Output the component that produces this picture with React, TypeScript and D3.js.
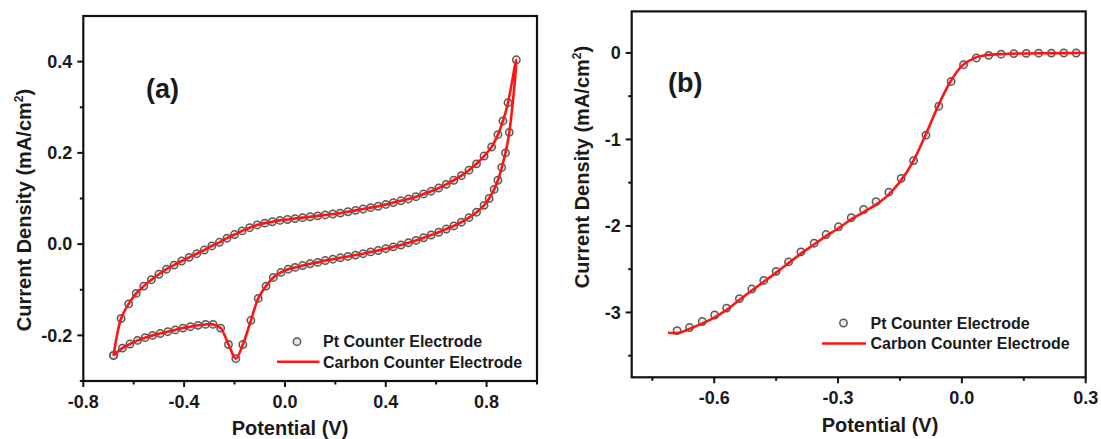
import React from 'react';
import * as d3 from 'd3';

// ---------- Panel (a): cyclic voltammetry ----------
const cvForwardV = [-0.68, -0.65, -0.62, -0.59, -0.56, -0.53, -0.50, -0.47, -0.44, -0.41, -0.38, -0.35, -0.32, -0.29, -0.26, -0.23, -0.20, -0.17, -0.14, -0.11, -0.08, -0.05, -0.02, 0.01, 0.04, 0.07, 0.10, 0.13, 0.16, 0.19, 0.22, 0.25, 0.28, 0.31, 0.34, 0.37, 0.40, 0.43, 0.46, 0.49, 0.52, 0.55, 0.58, 0.61, 0.64, 0.67, 0.70, 0.73, 0.76, 0.79, 0.82, 0.845, 0.865, 0.885, 0.918];
const cvForwardJ = [-0.244, -0.163, -0.131, -0.108, -0.092, -0.078, -0.066, -0.055, -0.046, -0.037, -0.029, -0.021, -0.013, -0.004, 0.004, 0.013, 0.021, 0.029, 0.036, 0.042, 0.046, 0.049, 0.052, 0.054, 0.056, 0.058, 0.060, 0.062, 0.064, 0.066, 0.068, 0.071, 0.074, 0.077, 0.080, 0.083, 0.087, 0.091, 0.095, 0.099, 0.104, 0.110, 0.116, 0.123, 0.131, 0.140, 0.150, 0.162, 0.176, 0.193, 0.213, 0.240, 0.270, 0.310, 0.404];
const cvReverseV = [0.918, 0.89, 0.875, 0.86, 0.845, 0.83, 0.81, 0.79, 0.76, 0.73, 0.70, 0.67, 0.64, 0.61, 0.58, 0.55, 0.52, 0.49, 0.46, 0.43, 0.40, 0.37, 0.34, 0.31, 0.28, 0.25, 0.22, 0.19, 0.16, 0.13, 0.10, 0.07, 0.04, 0.013, -0.016, -0.046, -0.075, -0.106, -0.135, -0.167, -0.195, -0.224, -0.255, -0.285, -0.315, -0.345, -0.375, -0.405, -0.435, -0.465, -0.495, -0.525, -0.555, -0.585, -0.615, -0.645, -0.68];
const cvReverseJ = [0.404, 0.245, 0.200, 0.168, 0.140, 0.120, 0.100, 0.085, 0.070, 0.058, 0.048, 0.040, 0.033, 0.026, 0.020, 0.014, 0.008, 0.003, -0.002, -0.006, -0.010, -0.014, -0.017, -0.021, -0.024, -0.027, -0.030, -0.033, -0.036, -0.040, -0.043, -0.047, -0.051, -0.055, -0.062, -0.073, -0.092, -0.119, -0.167, -0.220, -0.251, -0.220, -0.184, -0.176, -0.176, -0.178, -0.181, -0.184, -0.188, -0.192, -0.196, -0.200, -0.205, -0.211, -0.219, -0.228, -0.244];

// ---------- Panel (b): linear sweep ----------
const lsvPtV = [-0.690, -0.660, -0.629, -0.599, -0.570, -0.539, -0.509, -0.480, -0.450, -0.420, -0.390, -0.358, -0.329, -0.299, -0.268, -0.238, -0.208, -0.177, -0.147, -0.117, -0.087, -0.056, -0.026, 0.004, 0.035, 0.065, 0.095, 0.126, 0.156, 0.186, 0.217, 0.247, 0.277];
const lsvPtJ = [-3.21, -3.175, -3.105, -3.03, -2.95, -2.84, -2.73, -2.63, -2.525, -2.416, -2.30, -2.20, -2.10, -2.01, -1.905, -1.81, -1.72, -1.61, -1.45, -1.245, -0.95, -0.616, -0.33, -0.136, -0.058, -0.028, -0.015, -0.008, -0.005, -0.003, -0.002, -0.001, -0.001];
const lsvCarbonV = [-0.712, -0.685, -0.66, -0.63, -0.60, -0.57, -0.54, -0.51, -0.48, -0.45, -0.42, -0.39, -0.36, -0.33, -0.30, -0.27, -0.24, -0.21, -0.18, -0.15, -0.12, -0.09, -0.06, -0.03, 0.00, 0.03, 0.06, 0.10, 0.15, 0.20, 0.25, 0.30];
const lsvCarbonJ = [-3.235, -3.235, -3.19, -3.13, -3.06, -2.97, -2.86, -2.75, -2.645, -2.54, -2.43, -2.32, -2.22, -2.12, -2.03, -1.93, -1.845, -1.76, -1.65, -1.49, -1.27, -0.97, -0.64, -0.35, -0.15, -0.06, -0.025, -0.012, -0.006, -0.003, -0.002, -0.001];

// ---------- Axes ----------
const aXMajor = [-0.8, -0.4, 0.0, 0.4, 0.8];
const aXLabels = ['-0.8', '-0.4', '0.0', '0.4', '0.8'];
const aXMinor = [-0.6, -0.2, 0.2, 0.6, 1.0];
const aYMajor = [-0.2, 0.0, 0.2, 0.4];
const aYLabels = ['-0.2', '0.0', '0.2', '0.4'];
const aYMinor = [-0.3, -0.1, 0.1, 0.3];

const bXMajor = [-0.6, -0.3, 0.0, 0.3];
const bXLabels = ['-0.6', '-0.3', '0.0', '0.3'];
const bXMinor = [-0.75, -0.45, -0.15, 0.15];
const bYMajor = [-3, -2, -1, 0];
const bYLabels = ['-3', '-2', '-1', '0'];
const bYMinor = [-3.5, -2.5, -1.5, -0.5];

const legendLabels = ['Pt Counter Electrode', 'Carbon Counter Electrode'];
const xTitle = 'Potential (V)';

const FONT = "'Liberation Sans', Arial, Helvetica, sans-serif";
const TXT = '#1a1a1a';
const RED = '#ff1414';

type PanelProps = {
  frame: { left: number; right: number; top: number; bottom: number };
  xDomain: [number, number];
  yDomain: [number, number];
  xMajor: number[]; xLabels: string[]; xMinor: number[];
  yMajor: number[]; yLabels: string[]; yMinor: number[];
  ptV: number[]; ptJ: number[];
  lineV: number[]; lineJ: number[];
  tag: string; tagX: number; tagY: number;
  legend: { cx: number; cy: number; lx1: number; lx2: number; ly: number; tx: number; t1y: number; t2y: number };
  yTitleX: number; yTitleY: number;
  xTitleX: number; xTitleY: number;
};

function Panel(p: PanelProps) {
  const x = d3.scaleLinear().domain(p.xDomain).range([p.frame.left, p.frame.right]);
  const y = d3.scaleLinear().domain(p.yDomain).range([p.frame.bottom, p.frame.top]);
  const pts = p.ptV.map((v, i) => [v, p.ptJ[i]] as [number, number]);
  const linePts = p.lineV.map((v, i) => [v, p.lineJ[i]] as [number, number]);
  const lineGen = d3.line<[number, number]>().x(d => x(d[0])).y(d => y(d[1])).curve(d3.curveCatmullRom.alpha(0.5));
  const f = p.frame;
  return (
    <g>
      {pts.map((d, i) => (
        <circle key={'m' + i} cx={x(d[0])} cy={y(d[1])} r={3.7} fill="#dcdcdc" fillOpacity={0.6} stroke="#5a5a5a" strokeWidth={1.5} />
      ))}
      <path d={lineGen(linePts) || ''} fill="none" stroke={RED} strokeWidth={2.6} strokeLinejoin="round" />
      {/* frame */}
      <rect x={f.left} y={f.top} width={f.right - f.left} height={f.bottom - f.top} fill="none" stroke="#111" strokeWidth={2.2} />
      {/* ticks */}
      {p.xMajor.map((v, i) => (
        <g key={'xM' + i}>
          <line x1={x(v)} x2={x(v)} y1={f.bottom} y2={f.bottom + 6} stroke="#111" strokeWidth={2} />
          <text x={x(v)} y={f.bottom + 27} textAnchor="middle" fontFamily={FONT} fontWeight="bold" fontSize={18} fill={TXT}>{p.xLabels[i]}</text>
        </g>
      ))}
      {p.xMinor.map((v, i) => (
        <line key={'xm' + i} x1={x(v)} x2={x(v)} y1={f.bottom} y2={f.bottom + 3.5} stroke="#111" strokeWidth={2} />
      ))}
      {p.yMajor.map((v, i) => (
        <g key={'yM' + i}>
          <line x1={f.left - 6} x2={f.left} y1={y(v)} y2={y(v)} stroke="#111" strokeWidth={2} />
          <text x={f.left - 11} y={y(v)} dy="0.35em" textAnchor="end" fontFamily={FONT} fontWeight="bold" fontSize={18} fill={TXT}>{p.yLabels[i]}</text>
        </g>
      ))}
      {p.yMinor.map((v, i) => (
        <line key={'ym' + i} x1={f.left - 3.5} x2={f.left} y1={y(v)} y2={y(v)} stroke="#111" strokeWidth={2} />
      ))}
      {/* panel tag */}
      <text x={p.tagX} y={p.tagY} fontFamily={FONT} fontWeight="bold" fontSize={27} fill={TXT}>{p.tag}</text>
      {/* legend */}
      <circle cx={p.legend.cx} cy={p.legend.cy} r={3.7} fill="#dcdcdc" fillOpacity={0.6} stroke="#5a5a5a" strokeWidth={1.5} />
      <text x={p.legend.tx} y={p.legend.t1y} fontFamily={FONT} fontWeight="bold" fontSize={16} fill={TXT}>{legendLabels[0]}</text>
      <line x1={p.legend.lx1} x2={p.legend.lx2} y1={p.legend.ly} y2={p.legend.ly} stroke={RED} strokeWidth={2.6} />
      <text x={p.legend.tx} y={p.legend.t2y} fontFamily={FONT} fontWeight="bold" fontSize={16} fill={TXT}>{legendLabels[1]}</text>
      {/* axis titles */}
      <text x={p.xTitleX} y={p.xTitleY} textAnchor="middle" fontFamily={FONT} fontWeight="bold" fontSize={20} fill={TXT}>{xTitle}</text>
      <text transform={`translate(${p.yTitleX},${p.yTitleY}) rotate(-90)`} textAnchor="middle" fontFamily={FONT} fontWeight="bold" fontSize={20} fill={TXT}>
        Current Density (mA/cm<tspan dy={-8} fontSize={12}>2</tspan><tspan dy={8}>)</tspan>
      </text>
    </g>
  );
}

export default function App() {
  const cvPtV = [...cvForwardV, ...cvReverseV.slice(1)];
  const cvPtJ = [...cvForwardJ, ...cvReverseJ.slice(1)];
  return (
    <svg width={1101} height={439} style={{ position: 'absolute', left: 0, top: 0, background: '#fff', display: 'block' }}>
      <rect x={0} y={0} width={1101} height={439} fill="#fff" />
      <Panel
        frame={{ left: 83.3, right: 537, top: 16, bottom: 381 }}
        xDomain={[-0.8, 1.0]} yDomain={[-0.3, 0.5]}
        xMajor={aXMajor} xLabels={aXLabels} xMinor={aXMinor}
        yMajor={aYMajor} yLabels={aYLabels} yMinor={aYMinor}
        ptV={cvPtV} ptJ={cvPtJ} lineV={cvPtV} lineJ={cvPtJ}
        tag="(a)" tagX={146} tagY={98}
        legend={{ cx: 297, cy: 341.7, lx1: 277, lx2: 319.5, ly: 361.7, tx: 323, t1y: 347, t2y: 367.5 }}
        yTitleX={31} yTitleY={210}
        xTitleX={290} xTitleY={435}
      />
      <Panel
        frame={{ left: 631.7, right: 1085.7, top: 11.4, bottom: 377.3 }}
        xDomain={[-0.8, 0.3]} yDomain={[-3.75, 0.48]}
        xMajor={bXMajor} xLabels={bXLabels} xMinor={bXMinor}
        yMajor={bYMajor} yLabels={bYLabels} yMinor={bYMinor}
        ptV={lsvPtV} ptJ={lsvPtJ} lineV={lsvCarbonV} lineJ={lsvCarbonJ}
        tag="(b)" tagX={668} tagY={92}
        legend={{ cx: 843.5, cy: 323, lx1: 822, lx2: 866, ly: 343.5, tx: 870.5, t1y: 328.5, t2y: 349 }}
        yTitleX={589} yTitleY={167}
        xTitleX={880} xTitleY={432}
      />
    </svg>
  );
}
